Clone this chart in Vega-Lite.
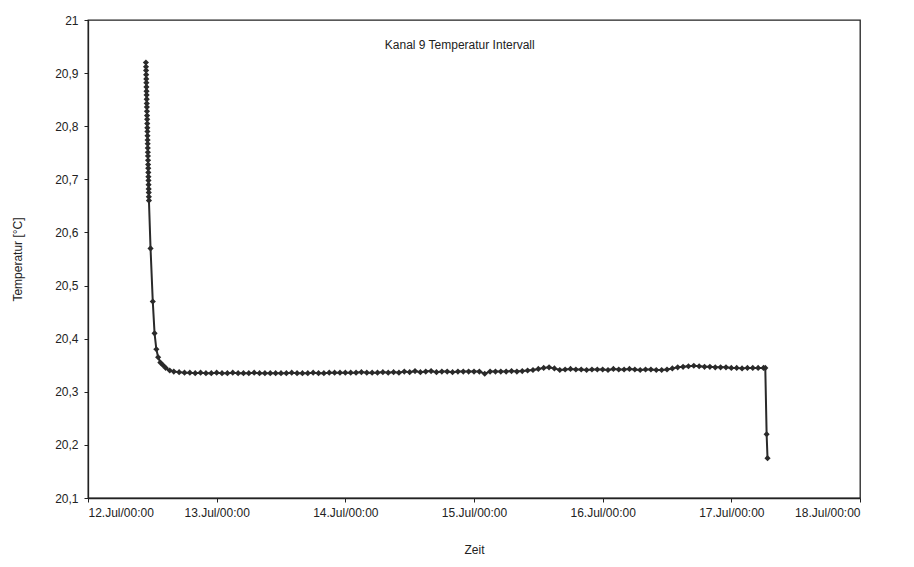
{
  "$schema": "https://vega.github.io/schema/vega-lite/v6.json",
  "width": 772,
  "height": 478,
  "autosize": {"type": "none"},
  "padding": {"left": 88, "top": 20, "right": 54, "bottom": 69},
  "background": "white",
  "config": {
    "view": {"stroke": "#222", "strokeWidth": 1.3},
    "font": "Liberation Sans",
    "axis": {"labelFont": "Liberation Sans", "titleFont": "Liberation Sans", "labelFontSize": 12, "titleFontSize": 12, "titleFontWeight": "normal", "labelColor": "#222", "titleColor": "#222", "domainColor": "#222", "domainWidth": 1.3, "tickColor": "#222", "grid": false, "tickSize": 4}
  },
  "data": {"values": [
    {"t":"2000-07-12T10:48","v":20.920},{"t":"2000-07-12T10:49","v":20.912},{"t":"2000-07-12T10:50","v":20.905},{"t":"2000-07-12T10:51","v":20.897},{"t":"2000-07-12T10:52","v":20.889},{"t":"2000-07-12T10:53","v":20.882},{"t":"2000-07-12T10:54","v":20.874},{"t":"2000-07-12T10:55","v":20.866},{"t":"2000-07-12T10:56","v":20.859},{"t":"2000-07-12T10:57","v":20.851},{"t":"2000-07-12T10:58","v":20.843},{"t":"2000-07-12T10:59","v":20.836},{"t":"2000-07-12T11:00","v":20.828},{"t":"2000-07-12T11:01","v":20.820},{"t":"2000-07-12T11:02","v":20.813},{"t":"2000-07-12T11:03","v":20.805},{"t":"2000-07-12T11:04","v":20.797},{"t":"2000-07-12T11:05","v":20.790},{"t":"2000-07-12T11:06","v":20.782},{"t":"2000-07-12T11:07","v":20.774},{"t":"2000-07-12T11:08","v":20.767},{"t":"2000-07-12T11:09","v":20.759},{"t":"2000-07-12T11:10","v":20.751},{"t":"2000-07-12T11:11","v":20.744},{"t":"2000-07-12T11:12","v":20.736},{"t":"2000-07-12T11:13","v":20.728},{"t":"2000-07-12T11:14","v":20.721},{"t":"2000-07-12T11:15","v":20.713},{"t":"2000-07-12T11:16","v":20.705},{"t":"2000-07-12T11:17","v":20.698},{"t":"2000-07-12T11:18","v":20.690},{"t":"2000-07-12T11:19","v":20.682},{"t":"2000-07-12T11:20","v":20.675},{"t":"2000-07-12T11:21","v":20.667},{"t":"2000-07-12T11:22","v":20.660},
    {"t":"2000-07-12T11:40","v":20.570},{"t":"2000-07-12T12:05","v":20.470},{"t":"2000-07-12T12:25","v":20.410},{"t":"2000-07-12T12:45","v":20.380},{"t":"2000-07-12T13:05","v":20.365},{"t":"2000-07-12T13:30","v":20.355},{"t":"2000-07-12T14:00","v":20.350},{"t":"2000-07-12T14:30","v":20.345},{"t":"2000-07-12T15:15","v":20.340},
    {"t":"2000-07-12T16:00","v":20.338},{"t":"2000-07-12T17:00","v":20.337},{"t":"2000-07-12T18:00","v":20.336},{"t":"2000-07-12T19:00","v":20.336},{"t":"2000-07-12T20:00","v":20.335},{"t":"2000-07-12T21:00","v":20.336},{"t":"2000-07-12T22:00","v":20.335},{"t":"2000-07-12T23:00","v":20.335},
    {"t":"2000-07-13T00:00","v":20.336},{"t":"2000-07-13T01:00","v":20.335},{"t":"2000-07-13T02:00","v":20.335},{"t":"2000-07-13T03:00","v":20.336},{"t":"2000-07-13T04:00","v":20.335},{"t":"2000-07-13T05:00","v":20.335},{"t":"2000-07-13T06:00","v":20.335},{"t":"2000-07-13T07:00","v":20.336},{"t":"2000-07-13T08:00","v":20.335},{"t":"2000-07-13T09:00","v":20.335},{"t":"2000-07-13T10:00","v":20.335},{"t":"2000-07-13T11:00","v":20.335},{"t":"2000-07-13T12:00","v":20.335},{"t":"2000-07-13T13:00","v":20.335},{"t":"2000-07-13T14:00","v":20.336},{"t":"2000-07-13T15:00","v":20.335},{"t":"2000-07-13T16:00","v":20.335},{"t":"2000-07-13T17:00","v":20.335},{"t":"2000-07-13T18:00","v":20.336},{"t":"2000-07-13T19:00","v":20.335},{"t":"2000-07-13T20:00","v":20.335},{"t":"2000-07-13T21:00","v":20.336},{"t":"2000-07-13T22:00","v":20.336},{"t":"2000-07-13T23:00","v":20.336},
    {"t":"2000-07-14T00:00","v":20.336},{"t":"2000-07-14T01:00","v":20.336},{"t":"2000-07-14T02:00","v":20.336},{"t":"2000-07-14T03:00","v":20.337},{"t":"2000-07-14T04:00","v":20.336},{"t":"2000-07-14T05:00","v":20.336},{"t":"2000-07-14T06:00","v":20.336},{"t":"2000-07-14T07:00","v":20.337},{"t":"2000-07-14T08:00","v":20.336},{"t":"2000-07-14T09:00","v":20.337},{"t":"2000-07-14T10:00","v":20.336},{"t":"2000-07-14T11:00","v":20.338},{"t":"2000-07-14T12:00","v":20.337},{"t":"2000-07-14T13:00","v":20.339},{"t":"2000-07-14T14:00","v":20.337},{"t":"2000-07-14T15:00","v":20.338},{"t":"2000-07-14T16:00","v":20.339},{"t":"2000-07-14T17:00","v":20.337},{"t":"2000-07-14T18:00","v":20.338},{"t":"2000-07-14T19:00","v":20.338},{"t":"2000-07-14T20:00","v":20.337},{"t":"2000-07-14T21:00","v":20.338},{"t":"2000-07-14T22:00","v":20.338},{"t":"2000-07-14T23:00","v":20.338},
    {"t":"2000-07-15T00:00","v":20.338},{"t":"2000-07-15T01:00","v":20.338},{"t":"2000-07-15T02:00","v":20.334},{"t":"2000-07-15T03:00","v":20.338},{"t":"2000-07-15T04:00","v":20.338},{"t":"2000-07-15T05:00","v":20.338},{"t":"2000-07-15T06:00","v":20.338},{"t":"2000-07-15T07:00","v":20.339},{"t":"2000-07-15T08:00","v":20.338},{"t":"2000-07-15T09:00","v":20.339},{"t":"2000-07-15T10:00","v":20.340},{"t":"2000-07-15T11:00","v":20.341},{"t":"2000-07-15T12:00","v":20.343},{"t":"2000-07-15T13:00","v":20.345},{"t":"2000-07-15T14:00","v":20.346},{"t":"2000-07-15T15:00","v":20.344},{"t":"2000-07-15T16:00","v":20.341},{"t":"2000-07-15T17:00","v":20.342},{"t":"2000-07-15T18:00","v":20.343},{"t":"2000-07-15T19:00","v":20.342},{"t":"2000-07-15T20:00","v":20.342},{"t":"2000-07-15T21:00","v":20.341},{"t":"2000-07-15T22:00","v":20.342},{"t":"2000-07-15T23:00","v":20.342},
    {"t":"2000-07-16T00:00","v":20.342},{"t":"2000-07-16T01:00","v":20.341},{"t":"2000-07-16T02:00","v":20.343},{"t":"2000-07-16T03:00","v":20.342},{"t":"2000-07-16T04:00","v":20.342},{"t":"2000-07-16T05:00","v":20.343},{"t":"2000-07-16T06:00","v":20.342},{"t":"2000-07-16T07:00","v":20.341},{"t":"2000-07-16T08:00","v":20.342},{"t":"2000-07-16T09:00","v":20.342},{"t":"2000-07-16T10:00","v":20.341},{"t":"2000-07-16T11:00","v":20.341},{"t":"2000-07-16T12:00","v":20.342},{"t":"2000-07-16T13:00","v":20.344},{"t":"2000-07-16T14:00","v":20.346},{"t":"2000-07-16T15:00","v":20.347},{"t":"2000-07-16T16:00","v":20.348},{"t":"2000-07-16T17:00","v":20.349},{"t":"2000-07-16T18:00","v":20.348},{"t":"2000-07-16T19:00","v":20.347},{"t":"2000-07-16T20:00","v":20.347},{"t":"2000-07-16T21:00","v":20.346},{"t":"2000-07-16T22:00","v":20.346},{"t":"2000-07-16T23:00","v":20.346},
    {"t":"2000-07-17T00:00","v":20.345},{"t":"2000-07-17T01:00","v":20.345},{"t":"2000-07-17T02:00","v":20.344},{"t":"2000-07-17T03:00","v":20.345},{"t":"2000-07-17T04:00","v":20.345},{"t":"2000-07-17T05:00","v":20.345},{"t":"2000-07-17T06:00","v":20.345},{"t":"2000-07-17T06:20","v":20.345},{"t":"2000-07-17T06:35","v":20.220},{"t":"2000-07-17T06:45","v":20.175}
  ]},
  "layer": [
    {
      "mark": {"type": "line", "color": "#2a2a2a", "strokeWidth": 2},
      "encoding": {
        "x": {"field": "t", "type": "temporal",
          "scale": {"domain": [{"year": 2000, "month": 7, "date": 12}, {"year": 2000, "month": 7, "date": 18}]},
          "axis": {"title": "Zeit", "format": "%d.%b/%H:%M", "labelPadding": 5, "titlePadding": 26,
            "values": [{"year": 2000, "month": 7, "date": 12}, {"year": 2000, "month": 7, "date": 13}, {"year": 2000, "month": 7, "date": 14}, {"year": 2000, "month": 7, "date": 15}, {"year": 2000, "month": 7, "date": 16}, {"year": 2000, "month": 7, "date": 17}, {"year": 2000, "month": 7, "date": 18}]}},
        "y": {"field": "v", "type": "quantitative",
          "scale": {"domain": [20.1, 21], "zero": false, "nice": false},
          "axis": {"title": "Temperatur [°C]", "values": [20.1, 20.2, 20.3, 20.4, 20.5, 20.6, 20.7, 20.8, 20.9, 21],
            "labelExpr": "replace(format(datum.value, '.3~r'), '.', ',')", "labelPadding": 6, "titlePadding": 30}}
      }
    },
    {
      "mark": {"type": "point", "shape": "diamond", "filled": true, "color": "#2a2a2a", "size": 38, "opacity": 1},
      "encoding": {
        "x": {"field": "t", "type": "temporal"},
        "y": {"field": "v", "type": "quantitative"}
      }
    },
    {
      "data": {"values": [{"label": "Kanal 9 Temperatur Intervall"}]},
      "mark": {"type": "text", "fontSize": 12, "color": "#222", "font": "Liberation Sans"},
      "encoding": {
        "x": {"datum": {"year": 2000, "month": 7, "date": 14, "hours": 21, "minutes": 20}, "type": "temporal"},
        "y": {"datum": 20.953, "type": "quantitative"},
        "text": {"field": "label"}
      }
    }
  ]
}
